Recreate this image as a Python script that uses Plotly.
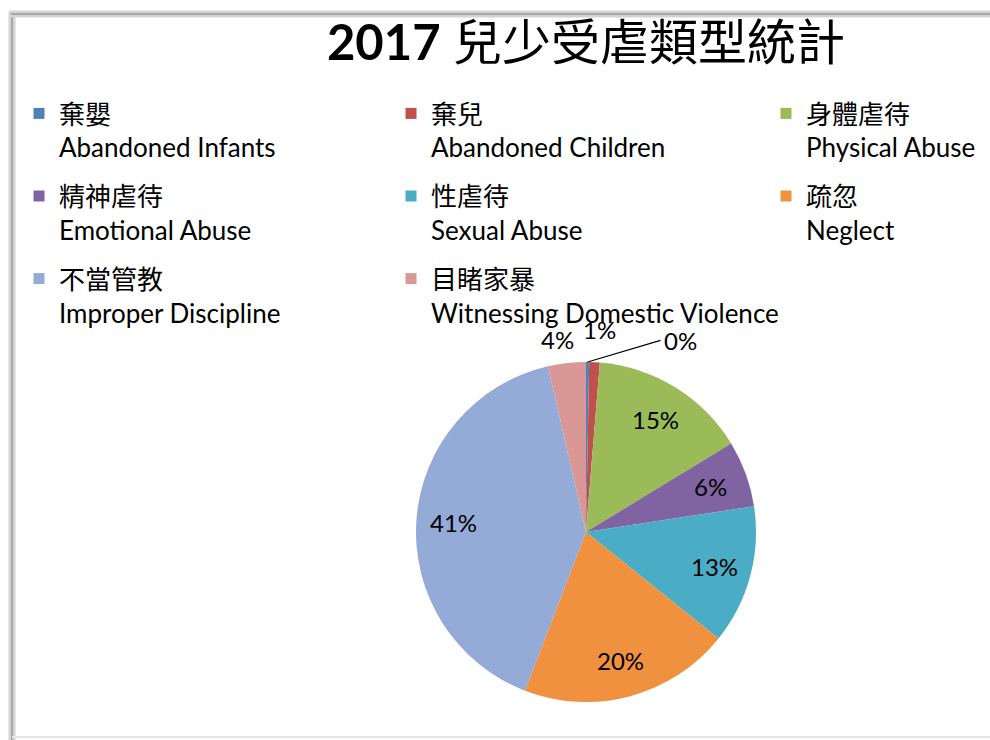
import math
import plotly.graph_objects as go

title_year = "2017"
title_text = "兒少受虐類型統計"
labels_zh = ["棄嬰", "棄兒", "身體虐待", "精神虐待", "性虐待", "疏忽", "不當管教", "目睹家暴"]
labels_en = ["Abandoned Infants", "Abandoned Children", "Physical Abuse", "Emotional Abuse",
             "Sexual Abuse", "Neglect", "Improper Discipline", "Witnessing Domestic Violence"]
values = [0.3, 1.0, 15.0, 6.3, 13.2, 20.1, 40.6, 3.6]
colors = ["#4F81BD", "#C0504D", "#9BBB59", "#8064A2", "#4BACC6", "#F0913F", "#94AAD7", "#D99795"]
label_mode = ["leader", "outside", "inside", "inside", "inside", "inside", "inside", "outside"]

W, H = 990, 740
FONT = "Lato, 'Noto Sans CJK TC', sans-serif"
PIE_X = (416 / W, 756 / W)
PIE_Y = (38 / H, 378 / H)
# style tweaks for the outside labels: (radius factor, x nudge in px)
OUTSIDE_STYLE = {1: (1.19, 3), 7: (1.14, -7)}
LEADER_TEXT_POS = (662, 340)

legend_labels = [f"{zh}<br>{en}" for zh, en in zip(labels_zh, labels_en)]

fig = go.Figure()
fig.add_trace(go.Pie(
    labels=legend_labels,
    values=values,
    sort=False,
    direction="clockwise",
    rotation=0,
    marker=dict(colors=colors, line=dict(width=0)),
    textinfo="none",
    domain=dict(x=list(PIE_X), y=list(PIE_Y)),
    automargin=False,
    showlegend=False,
    hoverinfo="label+percent",
))

# legend entries laid out in three columns (row-major order as in the reference)
legend_ids = ["legend", "legend2", "legend3"]
for i, (lab, col) in enumerate(zip(legend_labels, colors)):
    fig.add_trace(go.Scatter(
        x=[None], y=[None], mode="markers", name=lab,
        marker=dict(symbol="square", size=11, color=col),
        legend=legend_ids[i % 3], legendgroup=f"g{i}", showlegend=True,
        hoverinfo="skip",
    ))

# percentage labels placed like the original (Excel-style) data labels
total = sum(values)
cx_px = (PIE_X[0] + PIE_X[1]) / 2 * W
cy_px = (1 - (PIE_Y[0] + PIE_Y[1]) / 2) * H
r_px = (PIE_X[1] - PIE_X[0]) * W / 2
lab_font = dict(family=FONT, size=24, color="#000000")

annotations = []
cum = 0.0
for i, (v, mode) in enumerate(zip(values, label_mode)):
    mid = (cum + v / 2) / total
    cum += v
    ang = 2 * math.pi * mid
    sx, sy = math.sin(ang), -math.cos(ang)
    txt = f"{round(v / total * 100)}%"
    if mode == "inside":
        rr = 0.78 * r_px
        px, py = cx_px + rr * sx, cy_px + rr * sy
        annotations.append(dict(xref="paper", yref="paper", x=px / W, y=1 - py / H,
                                xanchor="center", yanchor="middle", text=txt,
                                showarrow=False, font=lab_font))
    elif mode == "outside":
        fac, nudge = OUTSIDE_STYLE.get(i, (1.15, 0))
        rr = fac * r_px
        px, py = cx_px + rr * sx + nudge, cy_px + rr * sy
        annotations.append(dict(xref="paper", yref="paper", x=px / W, y=1 - py / H,
                                xanchor="center", yanchor="middle", text=txt,
                                showarrow=False, font=lab_font))
    else:
        tip_x, tip_y = cx_px + r_px * sx, cy_px + r_px * sy
        lx, ly = LEADER_TEXT_POS
        annotations.append(dict(xref="paper", yref="paper", x=tip_x / W, y=1 - tip_y / H,
                                ax=lx - tip_x, ay=ly - tip_y, axref="pixel", ayref="pixel",
                                text="", showarrow=True, arrowhead=0, arrowwidth=1.2,
                                arrowcolor="#000000", standoff=0, startstandoff=0))
        annotations.append(dict(xref="paper", yref="paper", x=lx / W, y=1 - ly / H,
                                xanchor="left", yanchor="middle", text=txt,
                                showarrow=False, font=lab_font))

shapes = [
    dict(type="line", xref="paper", yref="paper", x0=12 / W, x1=12 / W, y0=0, y1=(H - 12) / H,
         line=dict(color="#d4d4d4", width=7)),
    dict(type="line", xref="paper", yref="paper", x0=12 / W, x1=12 / W, y0=0, y1=(H - 13) / H,
         line=dict(color="#a8a8a8", width=2)),
    dict(type="line", xref="paper", yref="paper", x0=9 / W, x1=1, y0=(H - 14) / H, y1=(H - 14) / H,
         line=dict(color="#d4d4d4", width=7)),
    dict(type="line", xref="paper", yref="paper", x0=11 / W, x1=1, y0=(H - 14) / H, y1=(H - 14) / H,
         line=dict(color="#a8a8a8", width=2)),
    dict(type="line", xref="paper", yref="paper", x0=12 / W, x1=1, y0=3 / H, y1=3 / H,
         line=dict(color="#e4e4e4", width=2)),
]

leg_common = dict(orientation="v", y=(H - 90) / H, xanchor="left", yanchor="top", valign="top",
                  font=dict(family=FONT, size=26, color="#000000"), tracegroupgap=12,
                  bgcolor="rgba(0,0,0,0)", itemclick=False, itemdoubleclick=False)

fig.update_layout(
    width=W, height=H,
    margin=dict(l=0, r=0, t=0, b=0),
    paper_bgcolor="white",
    plot_bgcolor="white",
    xaxis=dict(visible=False),
    yaxis=dict(visible=False),
    title=dict(text=f"<b>{title_year}</b> {title_text}", x=586 / W, xanchor="center",
               y=(H - 43) / H, yanchor="middle",
               font=dict(family=FONT, size=49, color="#000000")),
    legend=dict(x=19 / W, **leg_common),
    legend2=dict(x=391 / W, **leg_common),
    legend3=dict(x=766 / W, **leg_common),
    shapes=shapes,
    annotations=annotations,
)

fig.write_html("out.html")
